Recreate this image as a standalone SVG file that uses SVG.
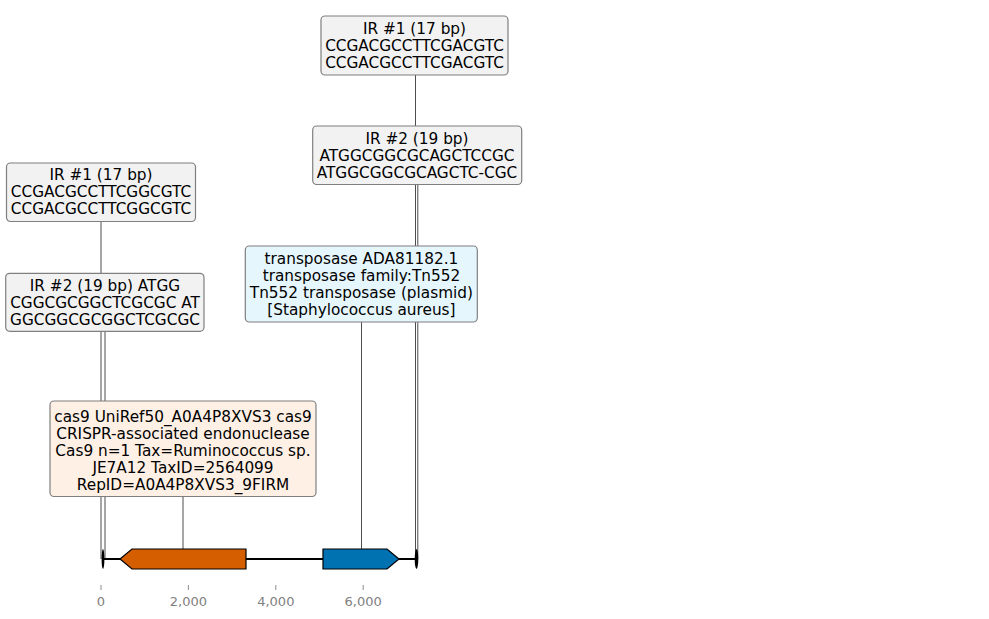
<svg xmlns="http://www.w3.org/2000/svg" width="989" height="619" viewBox="0 0 989 619">
<style>
.box{stroke:#7f7f7f;stroke-width:1.2}
.ir{fill:#f2f2f2}
.tp{fill:#e6f6fd}
.cs{fill:#fff0e5}
.lbl{font-family:"DejaVu Sans",sans-serif;font-size:15.3px;fill:#000;text-anchor:middle}
.con{stroke:#3a3a3a;stroke-width:0.9;fill:none}
.tick{stroke:#8c8c8c;stroke-width:1}
.ax{font-family:"DejaVu Sans",sans-serif;font-size:13px;fill:#808080;text-anchor:middle}
.gene{stroke:#000;stroke-width:1.2}
</style>
<rect width="989" height="619" fill="#fff"/>
<g id="connectors">
<line class="con" x1="101" y1="221" x2="101" y2="559"/>
<line class="con" x1="105" y1="331" x2="105" y2="559"/>
<line class="con" x1="183" y1="496" x2="183" y2="549"/>
<line class="con" x1="361.5" y1="322" x2="361.5" y2="549"/>
<line class="con" x1="415.5" y1="75" x2="415.5" y2="559"/>
<line class="con" x1="417.8" y1="184" x2="417.8" y2="559"/>
</g>
<g id="track">
<line x1="103" y1="559" x2="416" y2="559" stroke="#000" stroke-width="2"/>
<ellipse cx="103" cy="559" rx="1.4" ry="10" fill="#000"/>
<ellipse cx="416.5" cy="559" rx="1.8" ry="10" fill="#000"/>
</g>
<g id="gene-cas9">
<polygon class="gene" fill="#d55e00" points="120,559 132,549 246,549 246,569 132,569"/>
</g>
<g id="gene-transposase">
<polygon class="gene" fill="#0072b2" points="323,549 387,549 399,559 387,569 323,569"/>
</g>
<g id="axis">
<line class="tick" x1="101" y1="585" x2="101" y2="590"/>
<line class="tick" x1="188.4" y1="585" x2="188.4" y2="590"/>
<line class="tick" x1="275.8" y1="585" x2="275.8" y2="590"/>
<line class="tick" x1="363.2" y1="585" x2="363.2" y2="590"/>
<text class="ax" x="101" y="606">0</text>
<text class="ax" x="188.4" y="606">2,000</text>
<text class="ax" x="275.8" y="606">4,000</text>
<text class="ax" x="363.2" y="606">6,000</text>
</g>
<g id="ir1-right">
<rect class="box ir" x="321" y="16" width="187" height="59" rx="4"/>
<text class="lbl" x="414.5" y="34">IR #1 (17 bp)</text>
<text class="lbl" x="414.5" y="51">CCGACGCCTTCGACGTC</text>
<text class="lbl" x="414.5" y="68">CCGACGCCTTCGACGTC</text>
</g>
<g id="ir2-right">
<rect class="box ir" x="312.7" y="126" width="209" height="58.5" rx="4"/>
<text class="lbl" x="417" y="144">IR #2 (19 bp)</text>
<text class="lbl" x="417" y="161">ATGGCGGCGCAGCTCCGC</text>
<text class="lbl" x="417" y="178">ATGGCGGCGCAGCTC-CGC</text>
</g>
<g id="transposase">
<rect class="box tp" x="245.3" y="246" width="232" height="76" rx="4"/>
<text class="lbl" x="361.4" y="263.5">transposase ADA81182.1</text>
<text class="lbl" x="361.4" y="280.5">transposase family:Tn552</text>
<text class="lbl" x="361.4" y="297.5">Tn552 transposase (plasmid)</text>
<text class="lbl" x="361.4" y="314.5">[Staphylococcus aureus]</text>
</g>
<g id="ir1-left">
<rect class="box ir" x="6.5" y="163" width="189" height="58.5" rx="4"/>
<text class="lbl" x="101" y="180">IR #1 (17 bp)</text>
<text class="lbl" x="101" y="197">CCGACGCCTTCGGCGTC</text>
<text class="lbl" x="101" y="214">CCGACGCCTTCGGCGTC</text>
</g>
<g id="ir2-left">
<rect class="box ir" x="5.7" y="273.3" width="198.3" height="58" rx="4"/>
<text class="lbl" x="105" y="290.5">IR #2 (19 bp) ATGG</text>
<text class="lbl" x="105" y="307.5">CGGCGCGGCTCGCGC AT</text>
<text class="lbl" x="105" y="324.5">GGCGGCGCGGCTCGCGC</text>
</g>
<g id="cas9">
<rect class="box cs" x="50" y="401" width="266" height="95.5" rx="4"/>
<text class="lbl" x="183" y="422">cas9 UniRef50_A0A4P8XVS3 cas9</text>
<text class="lbl" x="183" y="439">CRISPR-associated endonuclease</text>
<text class="lbl" x="183" y="456">Cas9 n=1 Tax=Ruminococcus sp.</text>
<text class="lbl" x="183" y="473">JE7A12 TaxID=2564099</text>
<text class="lbl" x="183" y="490">RepID=A0A4P8XVS3_9FIRM</text>
</g>
</svg>
